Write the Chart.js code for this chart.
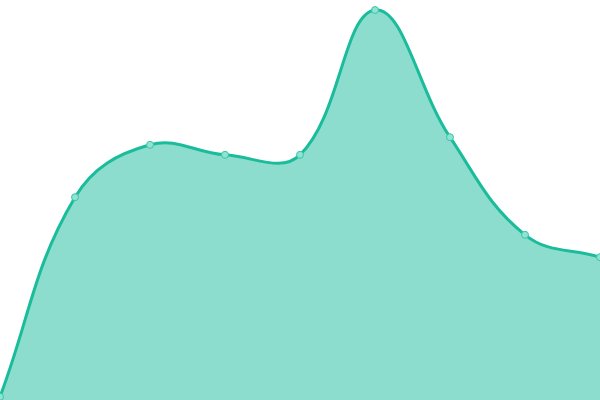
<!DOCTYPE html>
<html>
<head>
<meta charset="utf-8">
<script src="https://cdn.jsdelivr.net/npm/chart.js@4/dist/chart.umd.min.js"></script>
<style>
  html, body { margin: 0; padding: 0; background: #fff; }
  #wrap { width: 600px; height: 400px; position: relative; }
</style>
</head>
<body>
<div id="wrap"><canvas id="areaChart"></canvas></div>
<script>
// data (y scale 0..100)
const labels = ['1', '2', '3', '4', '5', '6', '7', '8', '9'];
const values = [0.8, 50.7, 63.8, 61.3, 61.3, 97.5, 65.7, 41.3, 35.7];

const ctx = document.getElementById('areaChart').getContext('2d');

new Chart(ctx, {
    type: 'line',
    data: {
        labels: labels,
        datasets: [{
            data: values,
            borderColor: '#1abc9c',
            backgroundColor: 'rgba(26, 188, 156, 0.5)',
            borderWidth: 3,
            tension: 0.4,
            fill: true,
            pointRadius: 3.5,
            pointBorderWidth: 1,
            pointBackgroundColor: '#8fe3d2',
            pointBorderColor: '#3cc4a8'
        }]
    },
    options: {
        responsive: true,
        maintainAspectRatio: false,
        animation: false,
        layout: { padding: 0, autoPadding: false },
        plugins: { legend: { display: false }, tooltip: { enabled: false } },
        scales: {
            x: { display: false },
            y: { display: false, min: 0, max: 100 }
        }
    }
});
</script>
</body>
</html>
